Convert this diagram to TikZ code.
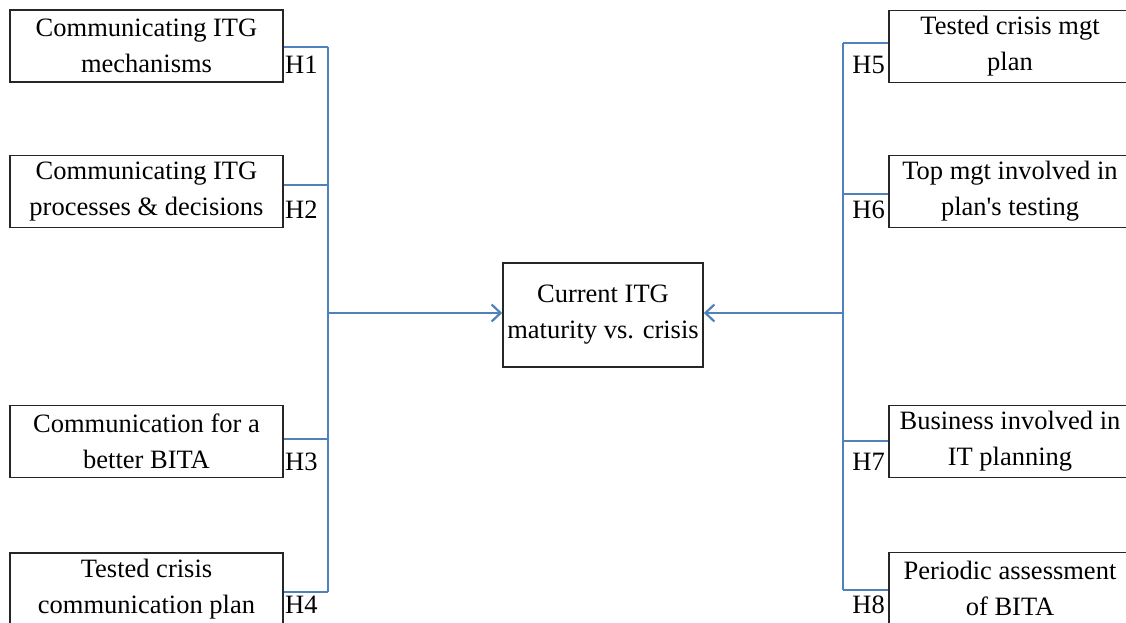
\documentclass[tikz,border=0pt]{standalone}
\usepackage{fontspec}
\setmainfont{Liberation Serif}[Ligatures=TeXOff]
\usetikzlibrary{arrows.meta}
\definecolor{lineblue}{RGB}{79,129,189}
\begin{document}
\begin{tikzpicture}[x=1pt,y=-1pt,
  hbox/.style={draw=black!85,line width=1.6pt,rectangle,inner sep=0pt,
    minimum width=273pt,minimum height=72pt,align=center,
    font=\fontsize{26.5}{36}\selectfont},
  rbox/.style={hbox,minimum width=242pt},
  cbox/.style={hbox,minimum width=200pt,minimum height=104pt},
  hlab/.style={inner sep=0pt,font=\fontsize{26.5}{36}\selectfont},
  conn/.style={draw=lineblue,line width=2.5pt},
  arr/.style={conn,-{Straight Barb[length=9pt,width=17pt,line width=2.2pt]}}]
\useasboundingbox (0,0) rectangle (1126,623);
\begin{scope}
\clip (0,0) rectangle (1126,623);
% left boxes
\node[hbox] (b1) at (146.5,46) {Communicating ITG\\mechanisms};
\node[hbox] (b2) at (146.5,191.5) {Communicating ITG\\processes \& decisions};
\node[hbox] (b3) at (146.5,441.5) {Communication for a\\better BITA};
\node[hbox] (b4) at (146.5,589) {Tested crisis\\communication plan};
% right boxes
\node[rbox] (b5) at (1010,46.5) {Tested crisis mgt\\plan};
\node[rbox] (b6) at (1010,191.5) {Top mgt involved in\\plan's testing};
\node[rbox] (b7) at (1010,441.5) {Business involved in\\IT planning};
\node[rbox] (b8) at (1010,588.5) {Periodic assessment\\of BITA};
% center
\node[cbox] (c) at (603,315) {Current ITG\\maturity vs. crisis};
% labels
\node[hlab,anchor=base west] (h1) at (285,74) {H1};
\node[hlab,anchor=base west] (h2) at (285,218) {H2};
\node[hlab,anchor=base west] (h3) at (285,470) {H3};
\node[hlab,anchor=base west] (h4) at (285,613) {H4};
\node[hlab,anchor=base east] (h5) at (885,74) {H5};
\node[hlab,anchor=base east] (h6) at (885,218) {H6};
\node[hlab,anchor=base east] (h7) at (885,470) {H7};
\node[hlab,anchor=base east] (h8) at (885,613) {H8};
% junctions
\coordinate (j1) at (328,47);
\coordinate (j2) at (328,185);
\coordinate (j3) at (328,439);
\coordinate (j4) at (328,592);
\coordinate (jl) at (328,313);
\coordinate (j5) at (843,43);
\coordinate (j6) at (843,194);
\coordinate (j7) at (843,441);
\coordinate (j8) at (843,590);
\coordinate (jr) at (843,313);
\draw[conn] (b1.east |- j1) -- (j1);
\draw[conn] (b2.east |- j2) -- (j2);
\draw[conn] (b3.east |- j3) -- (j3);
\draw[conn] (b4.east |- j4) -- (j4);
\draw[conn] (j1) -- (j4);
\draw[conn] (b5.west |- j5) -- (j5);
\draw[conn] (b6.west |- j6) -- (j6);
\draw[conn] (b7.west |- j7) -- (j7);
\draw[conn] (b8.west |- j8) -- (j8);
\draw[conn] (j5) -- (j8);
\draw[arr] (jl) -- (c.west |- jl);
\draw[arr] (jr) -- (c.east |- jr);
\end{scope}
\end{tikzpicture}
\end{document}
